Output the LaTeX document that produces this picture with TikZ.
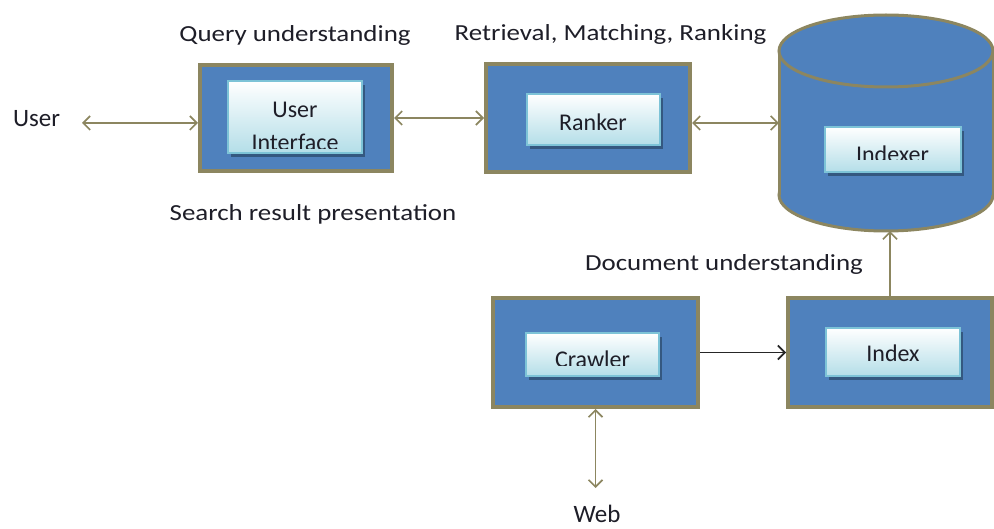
\documentclass[tikz,border=0pt]{standalone}
\usepackage{fontspec}
\setmainfont{Carlito}
\usepackage{graphicx}
\usetikzlibrary{arrows.meta}
\definecolor{boxblue}{RGB}{79,129,189}
\definecolor{oliveline}{RGB}{140,134,96}
\definecolor{innerline}{RGB}{125,195,215}
\definecolor{innercyan}{RGB}{180,222,232}
\definecolor{shadowblue}{RGB}{52,88,128}
\definecolor{textdark}{RGB}{30,30,40}
\newcommand{\widetext}[1]{\scalebox{1.17}[1]{#1}}
\tikzset{
  outerbox/.style={draw=oliveline, line width=4pt, fill=boxblue, inner sep=0pt},
  innerbox/.style={draw=innerline, line width=2pt, top color=white, bottom color=innercyan, inner sep=0pt},
  shadowbox/.style={fill=shadowblue, draw=none},
  lbl/.style={text=textdark, font=\fontsize{23}{28}\selectfont, inner sep=0pt},
  sidelbl/.style={text=textdark, font=\fontsize{25}{30}\selectfont, inner sep=0pt},
  intext/.style={text=textdark, font=\fontsize{24}{29}\selectfont, inner sep=0pt},
  conn/.style={draw=oliveline, line width=1.6pt},
  dblconn/.style={conn, {Straight Barb[length=7pt,width=14pt]}-{Straight Barb[length=7pt,width=14pt]}},
  oneconn/.style={conn, -{Straight Barb[length=7pt,width=14pt]}},
  blackconn/.style={draw=black!85, line width=1.6pt, -{Straight Barb[length=7pt,width=14pt]}}
}
\begin{document}
\begin{tikzpicture}[x=1pt, y=-1pt]
\useasboundingbox[fill=white] (0,0) rectangle (994,529);

% ---------- cylinder (Indexer store) ----------
\node[minimum width=214, minimum height=216, inner sep=0pt] (cyl) at (886,123) {};
\filldraw[fill=boxblue, draw=oliveline, line width=3pt] (886,195) ellipse [x radius=107pt, y radius=36pt];
\fill[boxblue] (779,51) rectangle (993,195);
\draw[oliveline, line width=3pt] (779,51) -- (779,195) (993,51) -- (993,195);
\filldraw[fill=boxblue, draw=oliveline, line width=3pt] (886,51) ellipse [x radius=107pt, y radius=36pt];

% ---------- outer boxes ----------
\node[outerbox, minimum width=192, minimum height=106] (ui) at (296,118) {};
\node[outerbox, minimum width=204, minimum height=108] (ranker) at (588,118) {};
\node[outerbox, minimum width=205, minimum height=109] (crawler) at (595.5,352.5) {};
\node[outerbox, minimum width=204, minimum height=109] (index) at (890,352.5) {};

% ---------- inner boxes (shadow, box, clipped text) ----------
% User Interface
\fill[shadowbox] (231,85) rectangle (365,157);
\node[innerbox, minimum width=134, minimum height=72] (uibox) at (295,117) {};
\begin{scope}
  \clip (228,81) rectangle (362,149);
  \node[intext, anchor=base] (uitxta) at (295,117.5) {User};
  \node[intext, anchor=base] (uitxtb) at (295,150.5) {Interface};
\end{scope}
% Ranker
\fill[shadowbox] (530,98) rectangle (663,149);
\node[innerbox, minimum width=133, minimum height=51] (rankerbox) at (593.5,119.5) {};
\node[intext, anchor=base] (rankertxt) at (593,131) {Ranker};
% Indexer
\fill[shadowbox] (828,131) rectangle (964,176);
\node[innerbox, minimum width=136, minimum height=45] (indexerbox) at (893,149.5) {};
\begin{scope}
  \clip (825,127) rectangle (961,159.5);
  \node[intext, anchor=base] (indexertxt) at (892.5,162.5) {Indexer};
\end{scope}
% Crawler
\fill[shadowbox] (529,337) rectangle (662,380);
\node[innerbox, minimum width=133, minimum height=43] (crawlerbox) at (592.5,354.5) {};
\begin{scope}
  \clip (526,333) rectangle (659,365.5);
  \node[intext, anchor=base] (crawlertxt) at (592.5,367.5) {Crawler};
\end{scope}
% Index
\fill[shadowbox] (829,332) rectangle (963,380);
\node[innerbox, minimum width=134, minimum height=48] (indexbox) at (893,352) {};
\node[intext, anchor=base] (indextxt) at (893,362) {Index};

% ---------- labels ----------
\node[lbl, anchor=base] (qu) at (295,42) {\widetext{Query understanding}};
\node[lbl, anchor=base] (rmr) at (610.5,41) {\widetext{Retrieval, Matching, Ranking}};
\node[lbl, anchor=base] (srp) at (313,221) {\widetext{Search result presentation}};
\node[lbl, anchor=base] (du) at (724,271) {\widetext{Document understanding}};
\node[sidelbl, anchor=base] (user) at (36.5,127) {User};
\node[sidelbl, anchor=base] (web) at (597,522) {Web};

% ---------- connectors ----------
\coordinate (userend) at (82,123);
\coordinate (webend) at (597,488);
\draw[dblconn] (userend) -- (ui.west |- userend);
\draw[dblconn] (ui.east) -- (ranker.west);
\draw[dblconn] (ranker.east |- cyl.west) -- (cyl.west);
\draw[blackconn] (crawler.east) -- (index.west);
\draw[oneconn] (index.north) -- (index.north |- cyl.south);
\draw[dblconn] (crawler.south) -- (crawler.south |- webend);
\end{tikzpicture}
\end{document}
